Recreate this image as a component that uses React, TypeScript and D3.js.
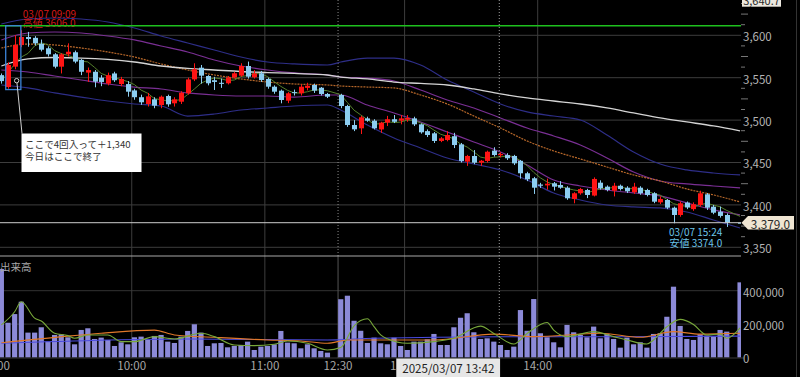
import React from 'react';
import * as d3 from 'd3';

// ---- data (3-minute bars, slot index 0 = 9:00, slot 51 = 12:30, slot 111 = 15:30 close) ----
const open: (number | null)[] = [
  3553, 3539, 3563, 3588.5, 3598, 3597, 3590, 3584.7, 3577.6, 3563,
  3577.6, 3580, 3571, 3556, 3557, 3550, 3543, 3555, 3542.5, 3542.5,
  3535, 3527, 3519, 3524.5, 3517.8, 3528.4, 3519.8, 3521.7, 3531.6, 3548,
  3561.8, 3552, 3547, 3544, 3543.4, 3550.5, 3552.4, 3563.8, 3550.5, 3555.2,
  3548.5, 3539.4, 3534.7, 3522.9, 3533, 3531.6, 3538, 3541.4, 3538.2, 3530.8,
  null, 3529.6, 3516.6, 3494.2, 3490.3, 3502, 3499.3, 3489, 3497, 3501,
  3499.3, 3500.5, 3502, 3495, 3487, 3484.4, 3475.4, 3476.5, 3481, 3471.4,
  3451, 3457.7, 3449.8, 3451.8, 3464, 3458.5, 3458.8, 3457.7, 3452, 3437.3,
  3431.4, 3424, 3423, 3425.5, 3423.5, 3420.3, 3407, 3413.7, 3417.6, 3411,
  3426.2, 3421.5, 3416.7, 3422.6, 3420.3, 3414.9, 3420.3, 3417.6, 3413.7, 3403,
  3405.8, 3396.7, 3388.1, 3402.7, 3395, 3399.9, 3412.5, 3397.9, 3392, 3388.1,
  null, 3379,
];
const high: (number | null)[] = [
  3555, 3568, 3600, 3606, 3604, 3599, 3595, 3587, 3579, 3579,
  3590.5, 3582, 3572, 3562, 3559, 3553, 3556, 3557, 3551, 3546,
  3537, 3530, 3532, 3527, 3529, 3530, 3527, 3534, 3550, 3567,
  3565, 3553, 3551, 3549, 3552, 3557, 3567, 3569, 3559, 3558,
  3550, 3541, 3536, 3533, 3536, 3542, 3544, 3543, 3539, 3532,
  null, 3531, 3518, 3500, 3505, 3504, 3501, 3498, 3505, 3506,
  3506, 3506, 3504, 3496, 3489, 3486, 3480, 3487, 3485, 3473,
  3459, 3464.7, 3453, 3464, 3468, 3462, 3461, 3459, 3453, 3439,
  3433, 3426, 3431, 3427, 3428, 3422, 3415, 3420, 3419, 3432.5,
  3429, 3423, 3426, 3424, 3422, 3426, 3422, 3419, 3415, 3410,
  3407, 3398, 3404, 3404, 3403, 3416.7, 3414, 3400, 3398, 3390,
  null, 3379,
];
const low: (number | null)[] = [
  3543, 3537, 3560, 3586, 3586.5, 3588, 3581, 3575, 3561, 3555,
  3575, 3567, 3553, 3545, 3538.7, 3540, 3541, 3545, 3540, 3527.6,
  3524, 3518, 3516, 3514, 3514, 3515.8, 3516, 3519, 3530, 3546,
  3543, 3541, 3535.5, 3538, 3542, 3549, 3551, 3549, 3549, 3545,
  3537, 3531, 3519.8, 3520, 3529, 3529, 3535, 3532, 3529, 3526,
  null, 3514, 3492, 3487, 3483.6, 3498, 3489, 3485, 3493, 3496.5,
  3495, 3498, 3493, 3484, 3480, 3473, 3474, 3475, 3467, 3450,
  3446, 3448, 3446, 3450, 3457, 3456, 3453, 3447, 3431, 3428,
  3412.9, 3420, 3418, 3417, 3419, 3406, 3401.9, 3412, 3408, 3410,
  3418, 3416, 3410, 3417, 3414, 3413, 3412, 3410, 3402, 3401,
  3395, 3378.3, 3386, 3395, 3393, 3398, 3394, 3389, 3385, 3374,
  null, 3379,
];
const close: (number | null)[] = [
  3546, 3565, 3588.5, 3598, 3595.6, 3590.5, 3583, 3577.6, 3563, 3577.6,
  3580.6, 3569, 3557, 3559, 3545.3, 3545, 3553, 3547, 3548.5, 3533.5,
  3527, 3521, 3528, 3517, 3527.6, 3518.6, 3524.5, 3532.3, 3548, 3560,
  3552.4, 3543.4, 3545, 3542.7, 3550, 3555.2, 3563.8, 3551.2, 3555, 3547.3,
  3539.4, 3533.5, 3523.7, 3531.6, 3532, 3539.4, 3540.5, 3534.7, 3530.8, 3527.6,
  null, 3516.6, 3494.2, 3489.1, 3503.3, 3499.3, 3490.3, 3497, 3501, 3498,
  3502, 3502.5, 3495, 3485.6, 3482.4, 3475.4, 3478.5, 3482.4, 3470.6, 3451.8,
  3457.7, 3449.8, 3452.1, 3462.7, 3458.8, 3460, 3455, 3449, 3437.3, 3430.2,
  3420.3, 3422.6, 3425, 3421.5, 3420.3, 3407.8, 3413.7, 3418.7, 3411.7, 3430.6,
  3419.6, 3417.6, 3422.6, 3418.7, 3416, 3421.5, 3413.7, 3411.7, 3403.8, 3407,
  3396.7, 3388.1, 3401.9, 3397, 3400.7, 3413.7, 3396.7, 3390.8, 3387, 3379,
  null, 3379,
];
// volume in thousands of shares
const volumeK: (number | null)[] = [
  530, 208, 260, 334, 149, 149, 181, 95, 135, 139,
  121, 79, 165, 175, 111, 119, 105, 69, 91, 79,
  121, 125, 105, 129, 135, 95, 87, 125, 159, 199,
  149, 69, 85, 87, 61, 69, 75, 95, 45, 65,
  69, 79, 159, 89, 85, 55, 79, 55, 39, 29,
  null, 349, 370, 220, 160, 87, 119, 85, 79, 119,
  69, 45, 95, 95, 109, 141, 75, 75, 181, 238,
  265, 151, 111, 115, 95, 75, 45, 65, 284, 160,
  350, 145, 121, 91, 61, 195, 151, 135, 121, 185,
  115, 141, 111, 59, 119, 79, 91, 59, 141, 145,
  244, 424, 189, 111, 105, 139, 131, 125, 165, 155,
  null, 450,
];

// indicator lines read at sample slots
const bandIdx = [0, 4, 8, 12, 16, 20, 24, 28, 32, 36, 40, 44, 49, 51, 55, 59, 63, 67, 71, 75, 79, 83, 87, 91, 95, 99, 103, 107, 111];
const bbUpper2 = [3613.3, 3619.2, 3620.4, 3619.2, 3615.7, 3608.6, 3599.2, 3590.9, 3582.7, 3574.4, 3568.5, 3566.2, 3565, 3568.5, 3573.2, 3573.2, 3565, 3547.3, 3533.1, 3519, 3509.6, 3504.8, 3500.1, 3482.4, 3462.4, 3448.2, 3441.2, 3437.6, 3435.3];
const bbUpper1 = [3594.5, 3602.7, 3603.9, 3602.7, 3599.2, 3594.5, 3587.4, 3580.3, 3570.9, 3563.8, 3559.1, 3555.6, 3553.2, 3550.8, 3549.6, 3546.1, 3535.5, 3523.7, 3514.3, 3502.5, 3490.7, 3481.3, 3470.6, 3455.3, 3438.8, 3428.2, 3424.7, 3422.3, 3420];
const bbMid = [3585, 3589.7, 3588.6, 3585, 3580.3, 3574.4, 3566.2, 3559.1, 3553.2, 3548.5, 3544.9, 3542.6, 3541.4, 3540.2, 3539, 3537.9, 3529.6, 3519, 3504.8, 3490.7, 3475.4, 3463.6, 3454.2, 3444.7, 3435.3, 3428.2, 3418.8, 3411.8, 3403.5];
const bbLower1 = [3559.1, 3556.7, 3552, 3547.3, 3542.6, 3539, 3536.7, 3532, 3529.6, 3528.4, 3528.4, 3527.2, 3529.6, 3529.6, 3517.8, 3508.4, 3497.8, 3486, 3474.2, 3462.4, 3447.1, 3429.4, 3422.3, 3417.6, 3414.1, 3410.6, 3402.3, 3394.1, 3388.3];
const bbLower2 = [3541.4, 3537.9, 3532, 3527.2, 3522.5, 3519, 3516.6, 3504.8, 3507.2, 3511.9, 3514.3, 3516.6, 3517.8, 3511.9, 3494.2, 3478.9, 3467.1, 3455.3, 3448.2, 3441.2, 3429.4, 3414.1, 3405.8, 3399.9, 3397.6, 3396.4, 3391.6, 3382.2, 3372.8];
const longMA = [3563.8, 3572.1, 3573.8, 3573.2, 3571.5, 3568.5, 3563.8, 3560.9, 3559.1, 3557.3, 3556.1, 3555, 3553.2, 3550.8, 3548.5, 3544.9, 3543.2, 3541.4, 3536.7, 3530.8, 3526.1, 3522.5, 3519, 3514.3, 3508.4, 3502.5, 3497.8, 3493.1, 3487.2];

const volShortIdx = [0, 2, 3, 5, 6, 8, 10, 11, 13, 16, 18, 20, 23, 26, 30, 32, 35, 38, 41, 43, 46, 49, 51, 53, 55, 56, 57, 58, 61, 65, 68, 72, 74, 77, 79, 82, 83, 85, 89, 92, 94, 97, 98, 100, 102, 104, 106, 108, 109, 111];
const volShort = [195, 274, 334, 236, 218, 145, 131, 115, 135, 135, 95, 95, 125, 111, 145, 125, 75, 71, 79, 99, 85, 45, 60, 190, 232, 185, 135, 112, 85, 95, 115, 188, 144, 81, 144, 210, 164, 125, 155, 125, 105, 81, 105, 184, 228, 198, 135, 141, 115, 178];
const volMidIdx = [0, 10, 15, 23, 26, 32, 40, 45, 49, 52, 56, 65, 74, 80, 90, 96, 101, 105, 111];
const volMid = [88, 128, 145, 164, 135, 121, 105, 99, 85, 105, 105, 105, 140, 125, 145, 121, 155, 140, 145];
const volLongIdx = [0, 28, 49, 56, 75, 90, 111];
const volLong = [85, 111, 105, 115, 124, 124, 128];

const timeTickSlots = [0, 20, 40, 51, 61, 81];
const timeTickLabels = ['9:00', '10:00', '11:00', '12:30', '13:00', '14:00'];
const priceTicks = [3350, 3400, 3450, 3500, 3550, 3600];
const volumeTicksK = [0, 200, 400];

const prevRefPrice = 3611.3;
const lastPrice = 3379.0;
const topPrice = 3640.7;
const highMark = { slot: 3, label: '03/07 09:09', text: '高値 3606.0' };
const lowMark = { slot: 109, label: '03/07 15:24', text: '安値 3374.0' };
const crossSlot = 75;
const crossLabel = '2025/03/07 13:42';
const noteLines = ['ここで4回入って＋1,340', '今日はここで終了'];

const FONT = "'Noto Sans CJK JP', 'Noto Sans', sans-serif";

export default function App() {
  const x = d3.scaleLinear().domain([0, 111]).range([1.35, 740.05]);
  const y = d3.scaleLinear().domain([3350, 3600]).range([247.3, 35.3]);
  const yv = d3.scaleLinear().domain([0, 400]).range([357.5, 290.7]);
  const plotR = 741;
  const sepY = 256;
  const volBottom = 358;

  const slots = d3.range(open.length).filter((i) => close[i] != null);

  // 5-bar moving average of closes
  const ma5 = slots.map((i, k) => {
    const win = slots.slice(Math.max(0, k - 4), k + 1);
    return [i, d3.mean(win, (j) => close[j] as number) as number] as [number, number];
  });

  const sampled = (idx: number[], vals: number[], sy: d3.ScaleLinear<number, number>) =>
    d3
      .line<number>()
      .x((_, k) => x(idx[k]))
      .y((d) => sy(d))
      .curve(d3.curveMonotoneX)(vals) as string;

  const ma5Path = d3
    .line<[number, number]>()
    .x((d) => x(d[0]))
    .y((d) => y(d[1]))(ma5) as string;

  const minorTicks = d3.range(3337.5, 3650, 12.5).filter((p) => p % 50 !== 0);

  const gridX = (s: number) => x(s) - 2.7;
  const crossX = x(crossSlot) - 1.2;

  const up = '#ff1414';
  const down = '#8ccdf0';

  const noteX = 21.5;
  const noteY = 133.5;
  const circX = x(2) + 2;
  const circY = y(3546.5);

  return (
    <svg
      width={800}
      height={377}
      style={{ position: 'absolute', left: 0, top: 0, background: '#000', fontFamily: FONT }}
    >
      <defs>
        <clipPath id="pricePanel">
          <rect x={0} y={0} width={plotR} height={sepY} />
        </clipPath>
        <clipPath id="volPanel">
          <rect x={0} y={sepY} width={plotR} height={volBottom - sepY} />
        </clipPath>
      </defs>
      <rect x={0} y={0} width={800} height={377} fill="#000" />

      {/* horizontal grid */}
      {priceTicks.map((p) => (
        <line key={'hp' + p} x1={0} x2={plotR} y1={y(p)} y2={y(p)} stroke="#3d3d3d" strokeWidth={1} />
      ))}
      {volumeTicksK.filter((v) => v > 0).map((v) => (
        <line key={'hv' + v} x1={0} x2={plotR} y1={yv(v)} y2={yv(v)} stroke="#333" strokeWidth={1} />
      ))}

      {/* vertical grid */}
      {timeTickSlots.map((s, k) =>
        timeTickLabels[k] === '12:30' ? (
          <g key={'vg' + s}>
            <line x1={gridX(s)} x2={gridX(s)} y1={0} y2={sepY} stroke="#8a8a8a" strokeDasharray="1,2" />
            <line x1={gridX(s)} x2={gridX(s)} y1={sepY} y2={volBottom} stroke="#555" />
          </g>
        ) : (
          <line key={'vg' + s} x1={gridX(s)} x2={gridX(s)} y1={0} y2={volBottom} stroke="#3d3d3d" />
        )
      )}

      {/* price panel */}
      <g clipPath="url(#pricePanel)">
        <path d={sampled(bandIdx, bbUpper2, y)} fill="none" stroke="#2e2e88" strokeWidth={1.2} />
        <path d={sampled(bandIdx, bbLower2, y)} fill="none" stroke="#2e2e88" strokeWidth={1.2} />
        <path d={sampled(bandIdx, bbUpper1, y)} fill="none" stroke="#7a2f94" strokeWidth={1.2} />
        <path d={sampled(bandIdx, bbLower1, y)} fill="none" stroke="#7a2f94" strokeWidth={1.2} />
        <path d={sampled(bandIdx, bbMid, y)} fill="none" stroke="#b8682a" strokeWidth={1.2} strokeDasharray="2,1" />
        <path d={sampled(bandIdx, longMA, y)} fill="none" stroke="#d4d4d4" strokeWidth={1.3} />
        <path d={ma5Path} fill="none" stroke="#55802c" strokeWidth={1} />

        {slots.map((i) => {
          const o = open[i] as number;
          const c = close[i] as number;
          const h = high[i] as number;
          const l = low[i] as number;
          const col = c > o ? up : down;
          const cx = Math.round(x(i)) + 0.5;
          const top = y(Math.max(o, c));
          const bh = Math.max(1, Math.abs(y(o) - y(c)));
          return (
            <g key={'c' + i}>
              <line x1={cx} x2={cx} y1={y(h)} y2={y(l)} stroke={col} strokeWidth={1} />
              <rect x={cx - 2.5} y={top} width={5} height={bh} fill={col} />
            </g>
          );
        })}

        {/* current price line */}
        <line x1={0} x2={plotR} y1={y(lastPrice)} y2={y(lastPrice)} stroke="#cfcfcf" strokeWidth={1} />
      </g>

      {/* high / low labels */}
      <text x={x(highMark.slot) + 1.5} y={17.8} fill="#d41818" fontSize={10}>
        {highMark.label}
      </text>
      <text x={x(highMark.slot) + 1.5} y={27.4} fill="#d41818" fontSize={10}>
        {highMark.text}
      </text>
      <line x1={0} x2={plotR} y1={y(prevRefPrice)} y2={y(prevRefPrice)} stroke="#1ec01e" strokeWidth={1.5} />
      <text x={x(lowMark.slot) - 4.5} y={236.3} fill="#6cc4ea" fontSize={10}>
        <tspan textAnchor="end">{lowMark.label}</tspan>
      </text>
      <text x={x(lowMark.slot) - 4.5} y={246.8} fill="#6cc4ea" fontSize={10} textAnchor="end">
        {lowMark.text}
      </text>

      {/* highlighted entry area */}
      <rect
        x={x(1) - 2.3}
        y={y(prevRefPrice)}
        width={x(2) - x(1) + 8.5}
        height={y(3536) - y(prevRefPrice)}
        fill="none"
        stroke="#3c84d8"
        strokeWidth={1.3}
      />
      <circle cx={circX} cy={circY} r={2.2} fill="none" stroke="#cfcfcf" strokeWidth={1} />
      <line x1={circX + 0.3} y1={circY + 2.2} x2={noteX + 0.5} y2={noteY} stroke="#cfcfcf" strokeWidth={1} />
      <rect x={noteX} y={noteY} width={120} height={38.5} fill="#fff" />
      {noteLines.map((t, k) => (
        <text key={'n' + k} x={noteX + 3.5} y={noteY + 14.3 + k * 11.7} fill="#333" fontSize={9.6}>
          {t}
        </text>
      ))}

      {/* separator */}
      <line x1={0} x2={plotR} y1={sepY} y2={sepY} stroke="#a8a8a8" strokeWidth={1} />

      {/* volume panel */}
      <g clipPath="url(#volPanel)">
        {slots.map((i) => {
          const v = volumeK[i] as number;
          return (
            <rect
              key={'v' + i}
              x={x(i) - 2.6}
              y={yv(v)}
              width={5.2}
              height={yv(0) - yv(v)}
              fill="#8c8ad8"
            />
          );
        })}
        <path d={sampled(volLongIdx, volLong, yv)} fill="none" stroke="#4b4be0" strokeWidth={1.1} />
        <path d={sampled(volMidIdx, volMid, yv)} fill="none" stroke="#e0782a" strokeWidth={1.1} />
        <path d={sampled(volShortIdx, volShort, yv)} fill="none" stroke="#78a83a" strokeWidth={1.1} />
      </g>
      <line x1={0} x2={plotR + 3} y1={volBottom} y2={volBottom} stroke="#3a3a3a" />
      <text x={0} y={271} fill="#a8a8a8" fontSize={10.5}>
        出来高
      </text>

      {/* right axis: price */}
      {priceTicks.map((p) => (
        <text key={'tp' + p} x={743} y={y(p) + 0.8} fill="#b4b4b4" fontSize={11.5} dominantBaseline="central">
          {d3.format(',')(p)}
        </text>
      ))}
      {minorTicks
        .filter((p) => y(p) > 0 && y(p) < sepY - 2)
        .map((p) => (
          <line
            key={'mt' + p}
            x1={741}
            x2={p % 25 === 0 ? 748 : 745}
            y1={y(p)}
            y2={y(p)}
            stroke="#777"
          />
        ))}
      {/* right axis: volume */}
      {volumeTicksK.map((v) => (
        <text key={'tv' + v} x={743} y={yv(v) + 0.8} fill="#b4b4b4" fontSize={11.4} dominantBaseline="central">
          {d3.format(',')(v * 1000)}
        </text>
      ))}

      {/* current price tag */}
      <path
        d={`M${plotR + 0.5},${y(lastPrice)} L${plotR + 7},${y(lastPrice) - 6.7} L${794},${y(lastPrice) - 6.7} L${794},${
          y(lastPrice) + 6.7
        } L${plotR + 7},${y(lastPrice) + 6.7} Z`}
        fill="#efe5d2"
      />
      <text x={770.5} y={y(lastPrice) + 0.8} fill="#2a2a2a" fontSize={11.8} textAnchor="middle" dominantBaseline="central">
        {d3.format(',.1f')(lastPrice)}
      </text>
      {/* top-of-scale tag */}
      <rect x={742} y={-7.5} width={39} height={14.2} fill="#ece8df" />
      <text x={761.5} y={-0.2} fill="#2a2a2a" fontSize={11} textAnchor="middle" dominantBaseline="central">
        {d3.format(',.1f')(topPrice)}
      </text>

      {/* time axis */}
      {timeTickSlots.map((s, k) => (
        <text key={'tt' + s} x={gridX(s)} y={370} fill="#a8a8a8" fontSize={11.6} textAnchor="middle">
          {timeTickLabels[k]}
        </text>
      ))}

      {/* crosshair */}
      <line x1={crossX} x2={crossX} y1={0} y2={volBottom} stroke="#a0a0a0" strokeDasharray="1,2" />
      <rect x={crossX - 103} y={358.5} width={103.8} height={19} fill="#e6e6e6" />
      <text x={crossX - 51} y={372.5} fill="#222" fontSize={11.6} textAnchor="middle">
        {crossLabel}
      </text>

      {/* right border */}
      <line x1={796.5} x2={796.5} y1={0} y2={377} stroke="#333" />
    </svg>
  );
}
